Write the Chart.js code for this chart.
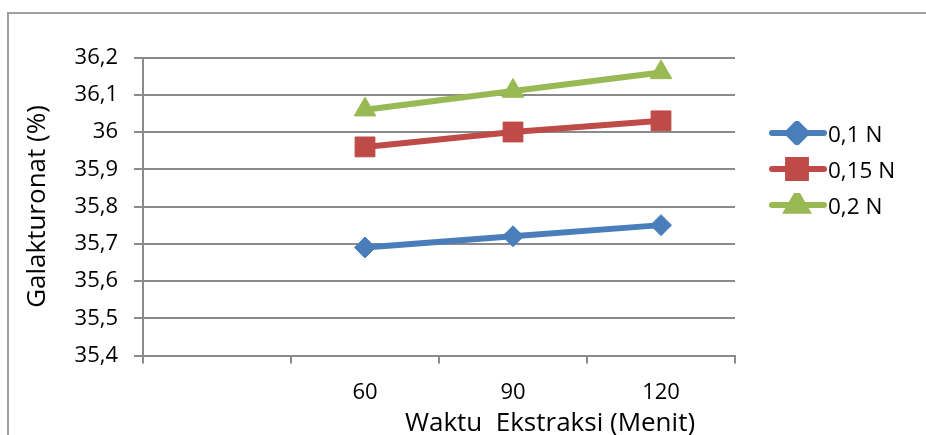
<!DOCTYPE html>
<html>
<head>
<meta charset="utf-8">
<script src="https://cdn.jsdelivr.net/npm/chart.js@4"></script>
<style>
    html, body { margin: 0; padding: 0; background: #fff; }
    body { width: 926px; height: 435px; overflow: hidden; position: relative; font-family: 'Open Sans', sans-serif; }
    .frame { position: absolute; left: 7px; top: 12px; width: 1000px; height: 600px; border: 2px solid #a0a0a0; }
    .wrap { position: absolute; left: 0; top: 0; width: 926px; height: 435px; }
    .x-title { position: absolute; left: 550px; top: 404px; transform: translateX(-50%); font-size: 26px; white-space: pre; color: #000; line-height: 34px; }
    .legend { position: absolute; left: 768px; top: 115px; }
    .legend-item { display: flex; align-items: center; height: 36px; font-size: 22.5px; color: #000; }
    .legend-item canvas { margin-right: 1px; }
</style>
</head>
<body>
<div class="frame"></div>
<div class="wrap"><canvas id="pectinChart" width="926" height="435"></canvas></div>
<div class="x-title" id="xTitle"></div>
<div class="legend" id="legend"></div>

<script>
/* Galakturonat content vs extraction time, per acid concentration */

const categories = ['', '60', '90', '120'];
const seriesNames = ['0,1 N', '0,15 N', '0,2 N'];
const seriesN01 = [null, 35.69, 35.72, 35.75];
const seriesN015 = [null, 35.96, 36.00, 36.03];
const seriesN02 = [null, 36.06, 36.11, 36.16];
const yTitle = 'Galakturonat (%)';
const xTitle = 'Waktu  Ekstraksi (Menit)';

const colors = ['#4a7ebb', '#be4b48', '#98b954'];
const markers = ['rectRot', 'rect', 'triangle'];
const markerSizes = [10.5, 14, 12.5];
const gridColor = '#8a8a8a';

function formatTick(value) {
    return String(Number(value.toFixed(1))).replace('.', ',');
}

function makeDataset(label, data, i) {
    return {
        label: label,
        data: data,
        borderColor: colors[i],
        backgroundColor: colors[i],
        borderWidth: 6,
        tension: 0,
        pointStyle: markers[i],
        pointRadius: markerSizes[i],
        pointHoverRadius: markerSizes[i],
        pointBorderWidth: 1,
        pointBorderColor: colors[i],
        pointBackgroundColor: colors[i]
    };
}

const chart = new Chart(document.getElementById('pectinChart'), {
    type: 'line',
    data: {
        labels: categories,
        datasets: [
            makeDataset(seriesNames[0], seriesN01, 0),
            makeDataset(seriesNames[1], seriesN015, 1),
            makeDataset(seriesNames[2], seriesN02, 2)
        ]
    },
    options: {
        responsive: false,
        animation: false,
        layout: {
            padding: { left: 0, right: 191, top: 57.5, bottom: 0 }
        },
        plugins: {
            legend: { display: false },
            tooltip: { enabled: false }
        },
        scales: {
            x: {
                offset: true,
                grid: {
                    offset: true,
                    drawOnChartArea: false,
                    color: gridColor,
                    lineWidth: 2,
                    tickLength: 8
                },
                border: { display: true, color: gridColor, width: 2 },
                ticks: {
                    color: '#000',
                    padding: 16,
                    maxRotation: 0,
                    font: { family: 'Open Sans', size: 22 }
                },
                afterFit: function (scale) {
                    scale.height = 79.5;
                }
            },
            y: {
                min: 35.4,
                max: 36.2,
                ticks: {
                    stepSize: 0.1,
                    color: '#000',
                    padding: 16,
                    font: { family: 'Open Sans', size: 22 },
                    callback: function (value) {
                        return formatTick(value);
                    }
                },
                grid: {
                    color: gridColor,
                    lineWidth: 2,
                    tickLength: 9
                },
                border: { display: true, color: gridColor, width: 2 },
                title: {
                    display: true,
                    text: yTitle,
                    color: '#000',
                    padding: { top: 22, bottom: 0 },
                    font: { family: 'Open Sans', size: 26, weight: 'normal' }
                },
                afterFit: function (scale) {
                    scale.width = 143;
                }
            }
        }
    }
});

document.getElementById('xTitle').textContent = xTitle;

// Legend: line with the series marker in the middle, then the label
function buildLegend() {
    const box = document.getElementById('legend');
    seriesNames.forEach((name, i) => {
        const item = document.createElement('div');
        item.className = 'legend-item';
        const sw = document.createElement('canvas');
        sw.width = 59;
        sw.height = 24;
        const ctx = sw.getContext('2d');
        ctx.strokeStyle = colors[i];
        ctx.lineWidth = 6;
        ctx.lineCap = 'round';
        ctx.beginPath();
        ctx.moveTo(4, 12);
        ctx.lineTo(56, 12);
        ctx.stroke();
        Chart.helpers.drawPoint(ctx, {
            pointStyle: markers[i],
            radius: markerSizes[i] * 0.9,
            borderWidth: 1,
            rotation: 0
        }, 29, 12);
        ctx.fillStyle = colors[i];
        ctx.fill();
        item.appendChild(sw);
        const label = document.createElement('span');
        label.textContent = name;
        item.appendChild(label);
        box.appendChild(item);
    });
}
buildLegend();
</script>
</body>
</html>
